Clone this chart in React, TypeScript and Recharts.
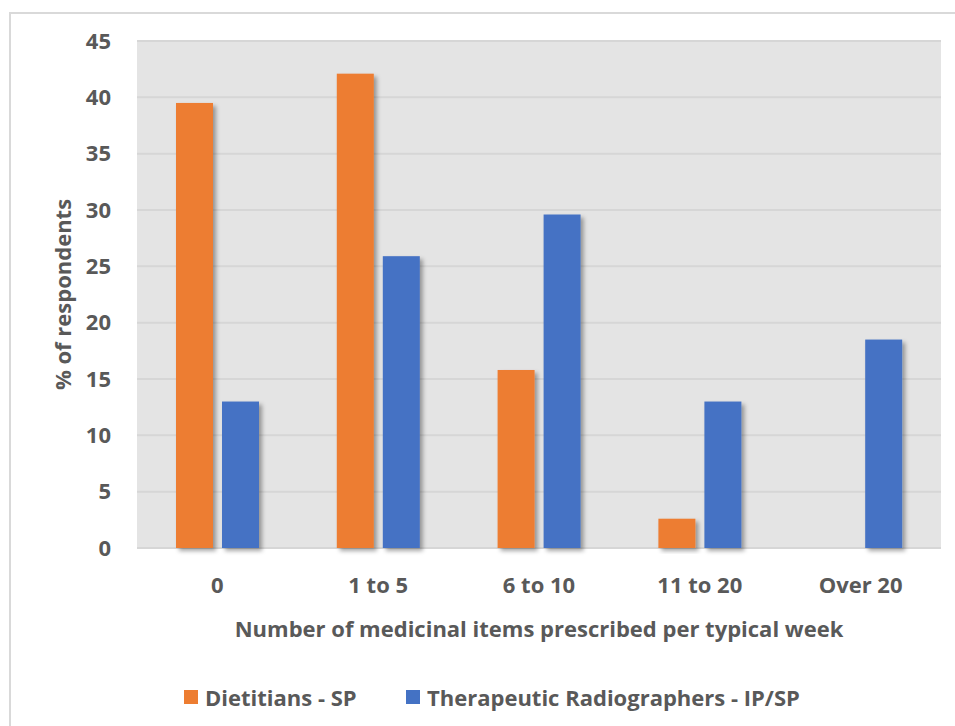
import React from 'react';
import { BarChart, Bar, XAxis, YAxis, CartesianGrid, Legend } from 'recharts';

const categories = ['0', '1 to 5', '6 to 10', '11 to 20', 'Over 20'];
const dietitians = [39.5, 42.1, 15.8, 2.6, 0];
const radiographers = [13.0, 25.9, 29.6, 13.0, 18.5];
const yTicks = [0, 5, 10, 15, 20, 25, 30, 35, 40, 45];

const seriesNames = ['Dietitians - SP', 'Therapeutic Radiographers - IP/SP'];
const colors = ['#ED7D31', '#4472C4'];

const data = categories.map((name, i) => ({
  name,
  dietitians: dietitians[i],
  radiographers: radiographers[i],
}));

const FONT = '"Open Sans", Lato, sans-serif';
const TEXT = '#595959';

// bars with the soft drop shadow
const ShadowBar = (props: any) => {
  const { x, y, width, height, fill } = props;
  if (!height || height <= 0) return null;
  return <rect x={x} y={y} width={width} height={height} fill={fill} filter="url(#barShadow)" />;
};

const LegendContent = () => (
  <div style={{ height: 40, display: 'flex', alignItems: 'flex-start', paddingLeft: 184, fontFamily: FONT, fontWeight: 700, fontSize: 22, color: TEXT, lineHeight: '22px' }}>
    {seriesNames.map((n, i) => (
      <div key={n} style={{ display: 'flex', alignItems: 'center', width: i === 0 ? 222 : 'auto', whiteSpace: 'nowrap' }}>
        <span style={{ width: 14, height: 14, background: colors[i], display: 'inline-block', marginRight: 7 }} />
        <span>{n}</span>
      </div>
    ))}
  </div>
);

export default function App() {
  return (
    <div style={{ position: 'absolute', left: 0, top: 0, width: 955, height: 726, overflow: 'hidden', background: '#fff' }}>
      <div style={{ position: 'absolute', left: 9, top: 12, width: 980, height: 760, borderTop: '2px solid #d9d9d9', borderLeft: '2px solid #d9d9d9' }} />
      <svg width={0} height={0} style={{ position: 'absolute' }}>
        <defs>
          <filter id="barShadow" x="-30%" y="-10%" width="160%" height="130%">
            <feDropShadow dx={3} dy={3} stdDeviation={2} floodColor="#000" floodOpacity={0.35} />
          </filter>
        </defs>
      </svg>
      <BarChart
        width={955}
        height={726}
        data={data}
        margin={{ top: 41, right: 14, bottom: 0, left: 0 }}
        barSize={37}
        barGap={9}
        style={{ position: 'absolute', left: 0, top: 0 }}
      >
        <CartesianGrid vertical={false} stroke="#d6d6d6" strokeWidth={2} fill="#e4e4e4" />
        <XAxis
          dataKey="name"
          height={138}
          axisLine={false}
          tickLine={false}
          tickSize={0}
          tickMargin={29}
          tick={{ fill: TEXT, fontSize: 22, fontWeight: 700, fontFamily: FONT }}
          label={{
            value: 'Number of medicinal items prescribed per typical week',
            position: 'insideBottom',
            offset: 49,
            fill: TEXT,
            fontSize: 22,
            fontWeight: 700,
            fontFamily: FONT,
          }}
        />
        <YAxis
          width={137}
          domain={[0, 45]}
          ticks={yTicks}
          axisLine={false}
          tickLine={false}
          tickSize={0}
          tickMargin={26}
          tick={{ fill: TEXT, fontSize: 22, fontWeight: 700, fontFamily: FONT }}
          label={{
            value: '% of respondents',
            angle: -90,
            position: 'insideLeft',
            offset: 63,
            fill: TEXT,
            fontSize: 22,
            fontWeight: 700,
            fontFamily: FONT,
            style: { textAnchor: 'middle' },
          }}
        />
        <Legend verticalAlign="bottom" content={<LegendContent />} wrapperStyle={{ left: 0, width: 955 }} />
        <Bar dataKey="dietitians" name={seriesNames[0]} fill={colors[0]} shape={<ShadowBar />} isAnimationActive={false} />
        <Bar dataKey="radiographers" name={seriesNames[1]} fill={colors[1]} shape={<ShadowBar />} isAnimationActive={false} />
      </BarChart>
    </div>
  );
}
